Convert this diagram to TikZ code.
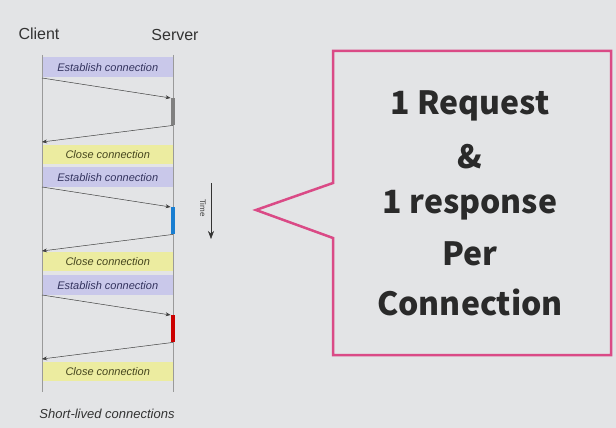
\documentclass[tikz,border=0pt]{standalone}
\usepackage{fontspec}
\setmainfont{Liberation Sans}
\newfontfamily\callfont{Noto Sans CJK KR}
\usetikzlibrary{arrows.meta}
\definecolor{bg}{HTML}{E3E4E6}
\definecolor{estfill}{HTML}{C9C8EA}
\definecolor{closefill}{HTML}{ECECA0}
\definecolor{esttext}{HTML}{33335E}
\definecolor{closetext}{HTML}{45451E}
\definecolor{lifeline}{HTML}{9A9A9A}
\definecolor{pinkline}{HTML}{DA4A86}
\definecolor{calltext}{HTML}{2A2A2A}
\tikzset{
  lbl/.style={font=\fontsize{16}{18}\selectfont, text=black!80},
  estbox/.style={fill=estfill, draw=none, inner sep=0pt, minimum width=131pt, minimum height=20pt, anchor=north west, font=\itshape\fontsize{11}{13}\selectfont, text=esttext},
  closebox/.style={fill=closefill, draw=none, inner sep=0pt, minimum width=131pt, minimum height=19pt, anchor=north west, font=\itshape\fontsize{11}{13}\selectfont, text=closetext},
  msg/.style={draw=black!75, line width=0.5pt, -{Stealth[length=5pt,width=4pt]}},
  lline/.style={draw=lifeline, line width=0.5pt},
  actbar/.style={draw=none, minimum width=4.5pt, minimum height=27pt, inner sep=0pt, anchor=north},
  calltxt/.style={font=\callfont\bfseries\fontsize{32}{36}\selectfont, text=calltext}
}
\begin{document}
\begin{tikzpicture}[x=1pt,y=-1pt]
\useasboundingbox[fill=bg] (0,0) rectangle (616,428);
% labels
\node[lbl] (client) at (39,34) {Client};
\node[lbl] (server) at (175,35) {Server};
% lifelines
\coordinate (ctop) at (42,55);
\coordinate (cbot) at (42,392);
\coordinate (stop) at (173,55);
\coordinate (sbot) at (173,392);
% boxes
\node[estbox] (e1) at (42,57) {Establish connection};
\node[closebox] (c1) at (42,145) {Close connection};
\node[estbox] (e2) at (42,167) {Establish connection};
\node[closebox] (c2) at (42,252) {Close connection};
\node[estbox] (e3) at (42,275) {Establish connection};
\node[closebox] (c3) at (42,362) {Close connection};
\draw[lline] (ctop) -- (cbot);
\draw[lline] (stop) -- (sbot);
% activation bars
\node[actbar, fill=black!50] (a1) at (173,98) {};
\node[actbar, fill=blue!45!cyan!80!black!90] (a2) at (173,207) {};
\node[actbar, fill=red!80!black] (a3) at (173,315) {};
% message endpoints
\coordinate (m1s) at (42,78);
\coordinate (m2e) at (42,142);
\coordinate (m3s) at (42,187);
\coordinate (m4e) at (42,251);
\coordinate (m5s) at (42,295);
\coordinate (m6e) at (42,359);
\draw[msg] (m1s) -- (a1.north west);
\draw[msg] (a1.south) -- (m2e);
\draw[msg] (m3s) -- (a2.north west);
\draw[msg] (a2.south) -- (m4e);
\draw[msg] (m5s) -- (a3.north west);
\draw[msg] (a3.south) -- (m6e);
% time arrow
\coordinate (t1) at (211,183);
\coordinate (t2) at (211,239);
\draw[draw=black!80, line width=0.5pt, -{Stealth[length=8pt,width=6pt]}] (t1) -- (t2);
\node[rotate=-90, font=\fontsize{8}{9}\selectfont, text=black!75] (time) at (203,208) {Time};
% caption
\node[font=\itshape\fontsize{13}{15}\selectfont, text=black!80] (cap) at (107,414) {Short-lived connections};
% callout
\draw[draw=pinkline, line width=2.5pt, line join=miter] (333,51) -- (611,51) -- (611,355) -- (333,355) -- (333,238) -- (256,210) -- (333,183) -- cycle;
\node[calltxt] (l1) at (470,106) {1 Request};
\node[calltxt] (l2) at (470,157) {\&};
\node[calltxt] (l3) at (470,205) {1 response};
\node[calltxt] (l4) at (470,254) {Per};
\node[calltxt] (l5) at (470,302) {Connection};
\end{tikzpicture}
\end{document}
